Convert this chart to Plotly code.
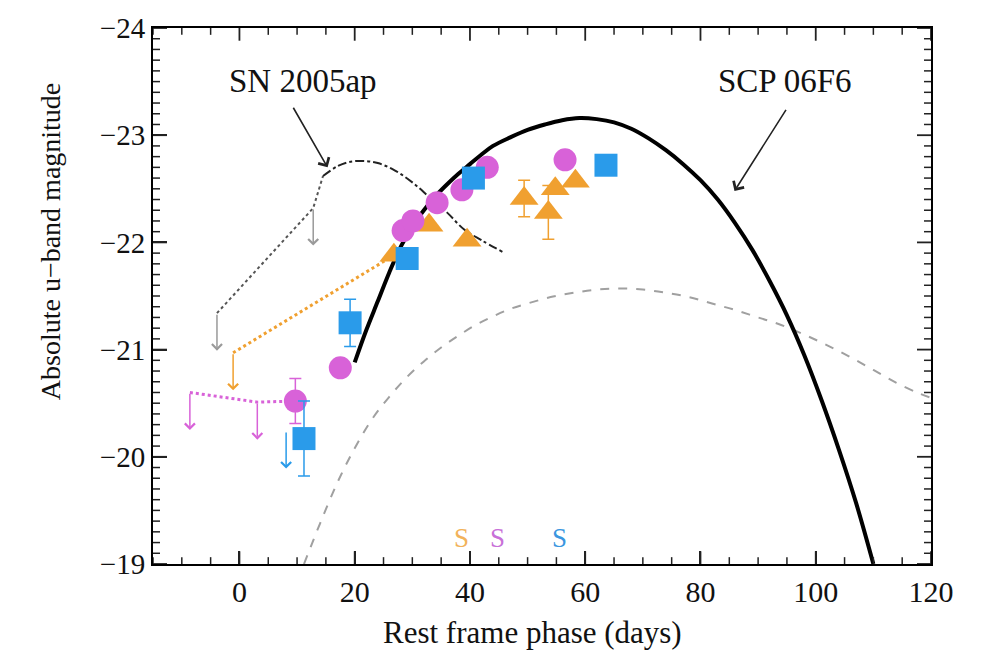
import plotly.graph_objects as go

# ---------------- data ----------------
# SCP 06F6 model curve (thick black)
scp_x = [20, 22, 24, 26, 28, 30, 32, 34, 36, 38, 40, 42, 44, 47, 50, 53, 56, 59, 62, 65, 68, 71,
         74, 77, 80, 83, 86, 89, 92, 95, 98, 101, 104, 107, 110]
scp_y = [-20.88, -21.18, -21.45, -21.72, -21.96, -22.15, -22.30, -22.43, -22.54, -22.64, -22.73,
         -22.82, -22.90, -22.98, -23.05, -23.10, -23.14, -23.16, -23.15, -23.12, -23.06, -22.97,
         -22.86, -22.73, -22.58, -22.40, -22.18, -21.93, -21.64, -21.32, -20.95, -20.53, -20.07,
         -19.57, -19.0]

# SN 2005ap template (dash-dot) and its early dotted part
sn05_x = [14.5, 17, 19, 21.4, 24, 27, 30, 33, 36, 39, 42, 45.7]
sn05_y = [-22.62, -22.71, -22.75, -22.76, -22.74, -22.67, -22.56, -22.42, -22.28, -22.12, -22.02, -21.91]
sn05_early_x = [-3.9, 12.8, 14.5]
sn05_early_y = [-21.34, -22.32, -22.62]

# grey dashed comparison curve
dash_x = [11.2, 14, 17, 20, 23, 26, 29, 32, 35, 38, 41, 44, 47, 50, 54, 58, 62, 66, 70, 74, 78,
          82, 86, 90, 94, 98, 102, 106, 110, 114, 118, 120]
dash_y = [-19.0, -19.38, -19.76, -20.08, -20.35, -20.56, -20.74, -20.89, -21.02, -21.13, -21.23,
          -21.31, -21.38, -21.43, -21.49, -21.53, -21.56, -21.57, -21.56, -21.53, -21.49, -21.43,
          -21.37, -21.30, -21.23, -21.14, -21.04, -20.93, -20.81, -20.69, -20.59, -20.55]

# magenta circles
mag_x = [9.7, 17.5, 28.4, 30.1, 34.3, 38.6, 43.0, 56.5]
mag_y = [-20.52, -20.83, -22.11, -22.20, -22.37, -22.49, -22.70, -22.77]
mag_err = [0.21, 0, 0, 0, 0, 0, 0, 0]

# blue squares
blue_x = [11.2, 19.2, 29.1, 40.6, 63.6]
blue_y = [-20.17, -21.25, -21.85, -22.60, -22.72]
blue_err = [0.35, 0.22, 0, 0, 0]

# orange triangles
org_x = [26.8, 32.9, 39.5, 49.4, 53.6, 54.8, 58.3]
org_y = [-21.88, -22.16, -22.02, -22.41, -22.28, -22.50, -22.57]
org_err = [0, 0, 0, 0.17, 0.25, 0, 0]

# dotted links to upper limits
org_link_x = [-1.1, 26.8]
org_link_y = [-20.97, -21.88]
mag_link_x = [-8.6, 3.1, 9.7]
mag_link_y = [-20.60, -20.51, -20.52]

# upper limits (x, top y, colour key)
lim_x = [-3.9, 12.8, -1.1, -8.6, 3.1, 8.1]
lim_y = [-21.34, -22.32, -20.97, -20.60, -20.51, -20.24]
lim_c = ["grey", "grey", "orange", "magenta", "magenta", "blue"]
lim_len = 0.35

# spectra epochs
spec_x = [38.6, 44.7, 55.6]
spec_c = ["orange", "magenta", "blue"]

# axis ranges and tick steps
x_range = [-15, 120]
y_range = [-19, -24]
x_major_step, x_minor_step = 20, 5
y_major_step, y_minor_step = 1, 0.1

COL = {"grey": "#9a9a9a", "orange": "#F0A030", "magenta": "#D862D8", "blue": "#2A9BEA"}
SCOL = {"orange": "#F2B25A", "magenta": "#C870D8", "blue": "#3A96E0"}
FONT = "Liberation Serif"

L, R, T, B = 153, 53, 16, 92
W, H = 984, 656
pw, ph = W - L - R, H - T - B

fig = go.Figure()

fig.add_trace(go.Scatter(x=dash_x, y=dash_y, mode="lines", line=dict(color="#a0a0a0", width=2, dash="dash"),
                         line_shape="spline", showlegend=False))
fig.add_trace(go.Scatter(x=sn05_early_x, y=sn05_early_y, mode="lines",
                         line=dict(color="#555555", width=2, dash="dot"), showlegend=False))
fig.add_trace(go.Scatter(x=sn05_x, y=sn05_y, mode="lines", line=dict(color="#222222", width=2, dash="dashdot"),
                         line_shape="spline", showlegend=False))
fig.add_trace(go.Scatter(x=org_link_x, y=org_link_y, mode="lines",
                         line=dict(color=COL["orange"], width=3, dash="dot"), showlegend=False))
fig.add_trace(go.Scatter(x=mag_link_x, y=mag_link_y, mode="lines",
                         line=dict(color=COL["magenta"], width=3, dash="dot"), showlegend=False))
fig.add_trace(go.Scatter(x=scp_x, y=scp_y, mode="lines", line=dict(color="black", width=4),
                         line_shape="spline", showlegend=False))

fig.add_trace(go.Scatter(x=org_x, y=org_y, mode="markers",
                         marker=dict(symbol="triangle-up", size=25, color=COL["orange"]),
                         error_y=dict(type="data", array=org_err, color=COL["orange"], thickness=1.5, width=6),
                         showlegend=False))
fig.add_trace(go.Scatter(x=mag_x, y=mag_y, mode="markers",
                         marker=dict(symbol="circle", size=23, color=COL["magenta"]),
                         error_y=dict(type="data", array=mag_err, color=COL["magenta"], thickness=1.5, width=6),
                         showlegend=False))
fig.add_trace(go.Scatter(x=blue_x, y=blue_y, mode="markers",
                         marker=dict(symbol="square", size=23, color=COL["blue"]),
                         error_y=dict(type="data", array=blue_err, color=COL["blue"], thickness=1.5, width=6),
                         showlegend=False))

ann = []
for x, y, c in zip(lim_x, lim_y, lim_c):
    ann.append(dict(x=x, y=y + lim_len, ax=x, ay=y, xref="x", yref="y", axref="x", ayref="y",
                    text="", showarrow=True, arrowhead=4, arrowsize=1.3, arrowwidth=1.5,
                    arrowcolor=COL[c], standoff=0, startstandoff=0))

# label arrows
ann.append(dict(x=15.3, y=-22.70, ax=9.2, ay=-23.27, xref="x", yref="y", axref="x", ayref="y",
                text="", showarrow=True, arrowhead=4, arrowsize=1.5, arrowwidth=1.6, arrowcolor="#222"))
ann.append(dict(x=85.9, y=-22.48, ax=95.0, ay=-23.25, xref="x", yref="y", axref="x", ayref="y",
                text="", showarrow=True, arrowhead=4, arrowsize=1.5, arrowwidth=1.6, arrowcolor="#222"))
ann.append(dict(x=11.0, y=-23.51, xref="x", yref="y", text="SN 2005ap", showarrow=False,
                font=dict(family=FONT, size=33, color="#111")))
ann.append(dict(x=94.7, y=-23.51, xref="x", yref="y", text="SCP 06F6", showarrow=False,
                font=dict(family=FONT, size=33, color="#111")))
for x, c in zip(spec_x, spec_c):
    ann.append(dict(x=x, y=-19.24, xref="x", yref="y", text="S", showarrow=False,
                    font=dict(family=FONT, size=27, color=SCOL[c])))

# axis titles (positions given in pixels, converted to paper fractions)
titles = [
    dict(px=532, py=634, text="Rest frame phase (days)", angle=0, size=31),
    dict(px=50, py=234, text="Absolute u\u2212band magnitude", angle=-90, size=28),
]
for t in titles:
    ann.append(dict(x=(t["px"] - L) / pw, y=1 - (t["py"] - T) / ph, xref="paper", yref="paper",
                    text=t["text"], showarrow=False, textangle=t["angle"], xanchor="center",
                    yanchor="middle", font=dict(family=FONT, size=t["size"], color="#111")))

# inward ticks on all four sides (frame decoration, positions from the axis ranges)
shapes = []
def tick_values(lo, hi, step):
    n = int(round((hi - lo) / step))
    return [round(lo + i * step, 6) for i in range(n + 1)]

x_lo, x_hi = min(x_range), max(x_range)
y_lo, y_hi = min(y_range), max(y_range)
x_majors = set(tick_values(0, x_hi, x_major_step))
y_majors = set(tick_values(y_lo, y_hi, y_major_step))
for v in tick_values(x_lo, x_hi, x_minor_step):
    major = v in x_majors
    ln = (13 if major else 7) / ph
    w = 1.8 if major else 1.5
    for a, b in ((0, ln), (1, 1 - ln)):
        shapes.append(dict(type="line", xref="x", yref="y domain", x0=v, x1=v, y0=a, y1=b,
                           line=dict(color="#222", width=w)))
for v in tick_values(y_lo, y_hi, y_minor_step):
    major = any(abs(v - m) < 1e-6 for m in y_majors)
    ln = (14 if major else 7) / pw
    w = 1.8 if major else 1.5
    for a, b in ((0, ln), (1, 1 - ln)):
        shapes.append(dict(type="line", xref="x domain", yref="y", x0=a, x1=b, y0=v, y1=v,
                           line=dict(color="#222", width=w)))

fig.update_layout(
    width=W, height=H, margin=dict(l=L, r=R, t=T, b=B),
    paper_bgcolor="white", plot_bgcolor="white",
    annotations=ann, shapes=shapes,
)
fig.update_xaxes(range=x_range, tickmode="linear", tick0=0, dtick=x_major_step,
                 showline=True, linecolor="black", linewidth=2, mirror=True,
                 ticks="inside", ticklen=13, tickwidth=1.8, tickcolor="#222",
                 showgrid=False, zeroline=False,
                 tickfont=dict(family=FONT, size=30, color="#111"))
fig.update_yaxes(range=y_range, tickmode="linear", tick0=-24, dtick=y_major_step,
                 showline=True, linecolor="black", linewidth=2, mirror=True,
                 ticks="inside", ticklen=14, tickwidth=1.8, tickcolor="#222",
                 showgrid=False, zeroline=False,
                 tickfont=dict(family=FONT, size=29, color="#111"))

fig.write_html("out.html")
